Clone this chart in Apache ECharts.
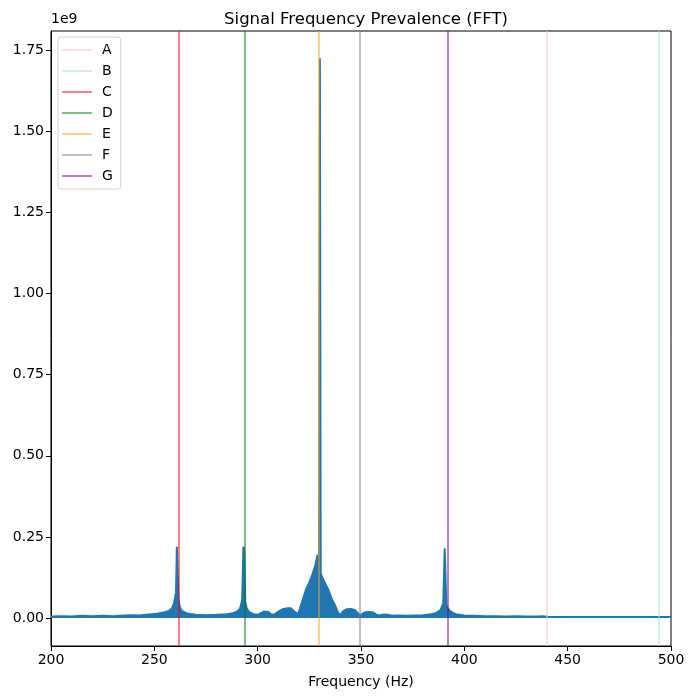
<!DOCTYPE html>
<html>
<head>
<meta charset="utf-8">
<title>Signal Frequency Prevalence (FFT)</title>
<script src="https://cdn.jsdelivr.net/npm/echarts@6/dist/echarts.min.js"></script>
<style>
  html, body { margin: 0; padding: 0; background: #fff; }
  #chart { width: 694px; height: 699px; }
</style>
</head>
<body>
<div id="chart"></div>
<script>
// FFT envelope, magnitude in units of 1e9
const freqHz = [
  200, 205, 210, 215, 220, 225, 230, 235, 240, 243, 246, 249, 252, 255, 257,
  258.5, 259.5, 260.5, 260.9, 261.3, 261.7, 262.3, 263, 264.5, 266, 270, 275,
  280, 285, 288, 290, 291.5, 292.5, 293.1, 293.5, 294, 294.7, 296, 298, 300,
  301.5, 303, 305, 306.5, 308, 310, 312, 314, 316, 317.5, 319.5, 320.5, 322,
  323.5, 325, 326.5, 328, 329, 329.7, 330.1, 330.5, 331, 332, 334, 335.8,
  337.4, 339, 340, 341.5, 343, 345, 347, 348.5, 349.5, 350.5, 352, 354, 356,
  357.5, 359, 361, 363, 365, 368, 372, 376, 380, 384, 386.5, 388.5, 389.8,
  390.5, 390.9, 391.3, 392, 393, 394.5, 396, 400, 405, 410, 415, 420, 425,
  430, 435, 438, 440, 445, 450, 460, 470, 480, 490, 500
]
const magnitude = [
  0.005, 0.006, 0.005, 0.007, 0.006, 0.007, 0.006, 0.008, 0.009, 0.008, 0.010, 0.012, 0.014, 0.018, 0.022,
  0.030, 0.045, 0.080, 0.220, 0.215, 0.060, 0.035, 0.025, 0.018, 0.014, 0.010, 0.009,
  0.010, 0.012, 0.015, 0.020, 0.030, 0.055, 0.220, 0.212, 0.050, 0.030, 0.018, 0.012, 0.010,
  0.015, 0.020, 0.019, 0.012, 0.010, 0.020, 0.027, 0.030, 0.030, 0.022, 0.012, 0.030, 0.060,
  0.090, 0.110, 0.135, 0.165, 0.195, 0.150, 1.725, 0.140, 0.128, 0.115, 0.090, 0.060,
  0.040, 0.015, 0.010, 0.022, 0.027, 0.028, 0.025, 0.015, 0.008, 0.012, 0.018, 0.019, 0.017,
  0.010, 0.008, 0.011, 0.010, 0.007, 0.008, 0.007, 0.008, 0.009, 0.012, 0.016, 0.025, 0.045,
  0.215, 0.210, 0.040, 0.030, 0.022, 0.016, 0.012, 0.008, 0.007, 0.006, 0.006, 0.005, 0.006,
  0.005, 0.005, 0.006, 0.004, 0.003, 0.003, 0.003, 0.003, 0.003, 0.003, 0.003
]

// note markers
const noteNames = ['A', 'B', 'C', 'D', 'E', 'F', 'G']
const noteFreqs = [440.0, 493.88, 261.63, 293.66, 329.63, 349.23, 392.0]
const noteColors = [
  'rgba(255,192,203,0.5)',
  'rgba(173,216,230,0.5)',
  'rgba(255,0,0,0.5)',
  'rgba(0,128,0,0.5)',
  'rgba(255,165,0,0.5)',
  'rgba(128,128,128,0.5)',
  'rgba(128,0,128,0.5)'
]

const yTicks = [0, 0.25, 0.5, 0.75, 1.0, 1.25, 1.5, 1.75]

const font = 'DejaVu Sans'
const chart = echarts.init(document.getElementById('chart'))

const noteSeries = noteNames.map((name, i) => ({
  name: name,
  type: 'line',
  data: [],
  z: 5,
  itemStyle: { color: noteColors[i] },
  lineStyle: { color: noteColors[i], width: 2 },
  markLine: {
    silent: true,
    symbol: ['none', 'none'],
    label: { show: false },
    lineStyle: { color: noteColors[i], width: 2, type: 'solid' },
    emphasis: { disabled: true },
    data: [{ xAxis: noteFreqs[i] }]
  }
}))

chart.setOption({
  animation: false,
  textStyle: { fontFamily: font },
  title: {
    text: 'Signal Frequency Prevalence (FFT)',
    left: 361,
    textAlign: 'center',
    top: 6,
    textStyle: { fontFamily: font, fontSize: 16.5, fontWeight: 'normal', color: '#000' }
  },
  graphic: [{
    type: 'text',
    left: 51,
    top: 12,
    style: { text: '1e9', font: '14px "DejaVu Sans"', fill: '#000' }
  }],
  grid: {
    left: 51, top: 31, width: 620, height: 615,
    show: true, borderColor: '#000', borderWidth: 1, backgroundColor: 'transparent'
  },
  legend: {
    data: noteNames,
    orient: 'vertical',
    left: 58,
    top: 37,
    icon: 'rect',
    itemWidth: 30,
    itemHeight: 2,
    itemGap: 7,
    padding: [6, 8, 6, 4],
    borderColor: '#d0d0d0',
    borderWidth: 1,
    borderRadius: 3,
    backgroundColor: 'rgba(255,255,255,0.8)',
    textStyle: { fontFamily: font, fontSize: 14, color: '#000', padding: [0, 0, 0, 5] }
  },
  xAxis: {
    type: 'value',
    min: 200,
    max: 500,
    interval: 50,
    name: 'Frequency (Hz)',
    nameLocation: 'middle',
    nameGap: 29,
    nameTextStyle: { fontFamily: font, fontSize: 14, color: '#000' },
    axisLine: { show: true, onZero: false, lineStyle: { color: '#000' } },
    axisTick: { show: true, length: 5, lineStyle: { color: '#000' } },
    axisLabel: { fontFamily: font, fontSize: 14, color: '#000', margin: 7 },
    splitLine: { show: false }
  },
  yAxis: {
    type: 'value',
    min: -0.086,
    max: 1.809,
    axisLine: { show: true, onZero: false, lineStyle: { color: '#000' } },
    axisTick: { show: true, length: 5, lineStyle: { color: '#000' }, customValues: yTicks },
    axisLabel: {
      fontFamily: font, fontSize: 14, color: '#000', margin: 7,
      customValues: yTicks,
      formatter: (v) => v.toFixed(2)
    },
    splitLine: { show: false }
  },
  series: [{
    name: 'signal',
    type: 'line',
    data: freqHz.map((f, i) => [f, magnitude[i]]),
    symbol: 'none',
    z: 2,
    color: '#1f77b4',
    lineStyle: { color: '#1f77b4', width: 2 },
    areaStyle: { color: '#1f77b4', opacity: 1 },
    emphasis: { disabled: true }
  }].concat(noteSeries)
})
</script>
</body>
</html>
